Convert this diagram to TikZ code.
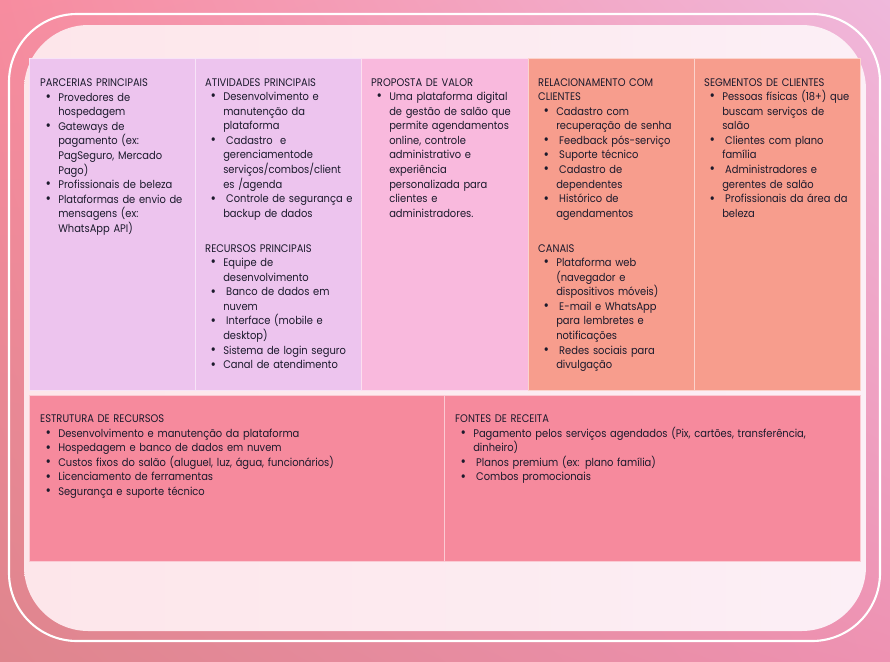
\documentclass[tikz,border=0pt]{standalone}
\usepackage{fontspec}
\setmainfont{Poppins}[FakeStretch=0.9]
\usepackage{tikz}
\usetikzlibrary{positioning,shadings}
\definecolor{bgTL}{HTML}{F78C9F}
\definecolor{bgTR}{HTML}{F0B8DC}
\definecolor{bgBL}{HTML}{DF858D}
\definecolor{bgBR}{HTML}{EE92B2}
\definecolor{panelL}{HTML}{FDE6EA}
\definecolor{panelR}{HTML}{FCEFF6}
\definecolor{cvlav}{HTML}{EDC4EE}
\definecolor{cvpink}{HTML}{F9B9DD}
\definecolor{cvsalmon}{HTML}{F79D8D}
\definecolor{cvrose}{HTML}{F68A9D}
\definecolor{cvtext}{HTML}{1B1A2C}
\newlength{\bind}\setlength{\bind}{15.4pt}
\newlength{\bsep}\setlength{\bsep}{6.2pt}
\newcommand{\hdr}[1]{\noindent#1}
\newcommand{\itembreak}{\unskip\nobreak\hfil\break}
\newcommand{\bitem}[1]{\par\begingroup\let\\\itembreak
  \hangindent=\bind\hangafter=1\noindent
  \hbox to\bind{\hfil{\fontsize{12.5}{12.45}\selectfont\raisebox{-0.3pt}{\textbullet}}\hskip\bsep}#1\par\endgroup}
\newcommand{\lsp}{\hspace{2.5pt}}

\begin{document}
\begin{tikzpicture}[x=0.03cm,y=-0.03cm,
    cvtxt/.style={anchor=north west,inner sep=0pt,text=cvtext,
      font=\fontsize{9.4}{12.45}\selectfont,
      execute at begin node=\raggedright}]
  \useasboundingbox (0,0) rectangle (890,661);
  %% background and frame
  \shade[upper left=bgTL,upper right=bgTR,lower left=bgBL,lower right=bgBR]
    (0,0) rectangle (890,661);
  \draw[white,line width=1.8pt,rounded corners=58] (9,14) rectangle (880,641);
  \shade[left color=panelL,right color=panelR,rounded corners=55]
    (24,25) rectangle (866,631);

  %% top row
  \filldraw[fill=cvlav,draw=white!55!cvlav,line width=0.8pt] (29.5,58) rectangle (195,390);
  \filldraw[fill=cvlav,draw=white!55!cvlav,line width=0.8pt] (195,58) rectangle (361.5,390);
  \filldraw[fill=cvpink,draw=white!55!cvpink,line width=0.8pt] (361.5,58) rectangle (528,390);
  \filldraw[fill=cvsalmon,draw=white!55!cvsalmon,line width=0.8pt] (528,58) rectangle (694,390);
  \filldraw[fill=cvsalmon,draw=white!55!cvsalmon,line width=0.8pt] (694,58) rectangle (860,390);
  %% bottom row
  \filldraw[fill=cvrose,draw=white!55!cvrose,line width=0.8pt] (29.5,395.5) rectangle (444,561);
  \filldraw[fill=cvrose,draw=white!55!cvrose,line width=0.8pt] (444,395.5) rectangle (860,561);

  \node[cvtxt,text width=4.6cm] (parcerias) at (40,78.5) {%
    \hdr{PARCERIAS PRINCIPAIS}
    \bitem{Provedores de\\hospedagem}
    \bitem{Gateways de\\pagamento (ex:\\PagSeguro, Mercado\\Pago)}
    \bitem{Profissionais de beleza}
    \bitem{Plataformas de envio de\\mensagens (ex:\\WhatsApp API)}};

  \node[cvtxt,text width=4.7cm] (atividades) at (205,78) {%
    \hdr{ATIVIDADES PRINCIPAIS}
    \bitem{Desenvolvimento e\\manutenção da\\plataforma}
    \bitem{\lsp Cadastro\ \ e\\gerenciamentode\\serviços/combos/client\\es /agenda}
    \bitem{\lsp Controle de segurança e\\backup de dados}};

  \node[cvtxt,text width=4.7cm] (recursos) at (205,244) {%
    \hdr{RECURSOS PRINCIPAIS}
    \bitem{Equipe de\\desenvolvimento}
    \bitem{\lsp Banco de dados em\\nuvem}
    \bitem{\lsp Interface (mobile e\\desktop)}
    \bitem{Sistema de login seguro}
    \bitem{Canal de atendimento}};

  \node[cvtxt,text width=4.7cm] (proposta) at (371,78) {%
    \hdr{PROPOSTA DE VALOR}
    \bitem{Uma plataforma digital\\de gestão de salão que\\permite agendamentos\\online, controle\\administrativo e\\experiência\\personalizada para\\clientes e\\administradores.}};

  \node[cvtxt,text width=4.7cm] (relacionamento) at (538,78) {%
    \hdr{RELACIONAMENTO COM\\CLIENTES}
    \bitem{Cadastro com\\recuperação de senha}
    \bitem{\lsp Feedback pós-serviço}
    \bitem{\lsp Suporte técnico}
    \bitem{\lsp Cadastro de\\dependentes}
    \bitem{\lsp Histórico de\\agendamentos}};

  \node[cvtxt,text width=4.7cm] (canais) at (538,244) {%
    \hdr{CANAIS}
    \bitem{Plataforma web\\(navegador e\\dispositivos móveis)}
    \bitem{\lsp E-mail e WhatsApp\\para lembretes e\\notificações}
    \bitem{\lsp Redes sociais para\\divulgação}};

  \node[cvtxt,text width=4.7cm] (segmentos) at (704,78) {%
    \hdr{SEGMENTOS DE CLIENTES}
    \bitem{Pessoas físicas (18+) que\\buscam serviços de\\salão}
    \bitem{\lsp Clientes com plano\\família}
    \bitem{\lsp Administradores e\\gerentes de salão}
    \bitem{\lsp Profissionais da área da\\beleza}};

  \node[cvtxt,text width=11.8cm] (estrutura) at (40,414.5) {%
    \hdr{ESTRUTURA DE RECURSOS}
    \bitem{Desenvolvimento e manutenção da plataforma}
    \bitem{Hospedagem e banco de dados em nuvem}
    \bitem{Custos fixos do salão (aluguel, luz, água, funcionários)}
    \bitem{Licenciamento de ferramentas}
    \bitem{Segurança e suporte técnico}};

  \node[cvtxt,text width=11.9cm] (fontes) at (455,414.5) {%
    \hdr{FONTES DE RECEITA}
    \bitem{Pagamento pelos serviços agendados (Pix, cartões, transferência,\\dinheiro)}
    \bitem{\lsp Planos premium (ex: plano família)}
    \bitem{\lsp Combos promocionais}};
\end{tikzpicture}
\end{document}
